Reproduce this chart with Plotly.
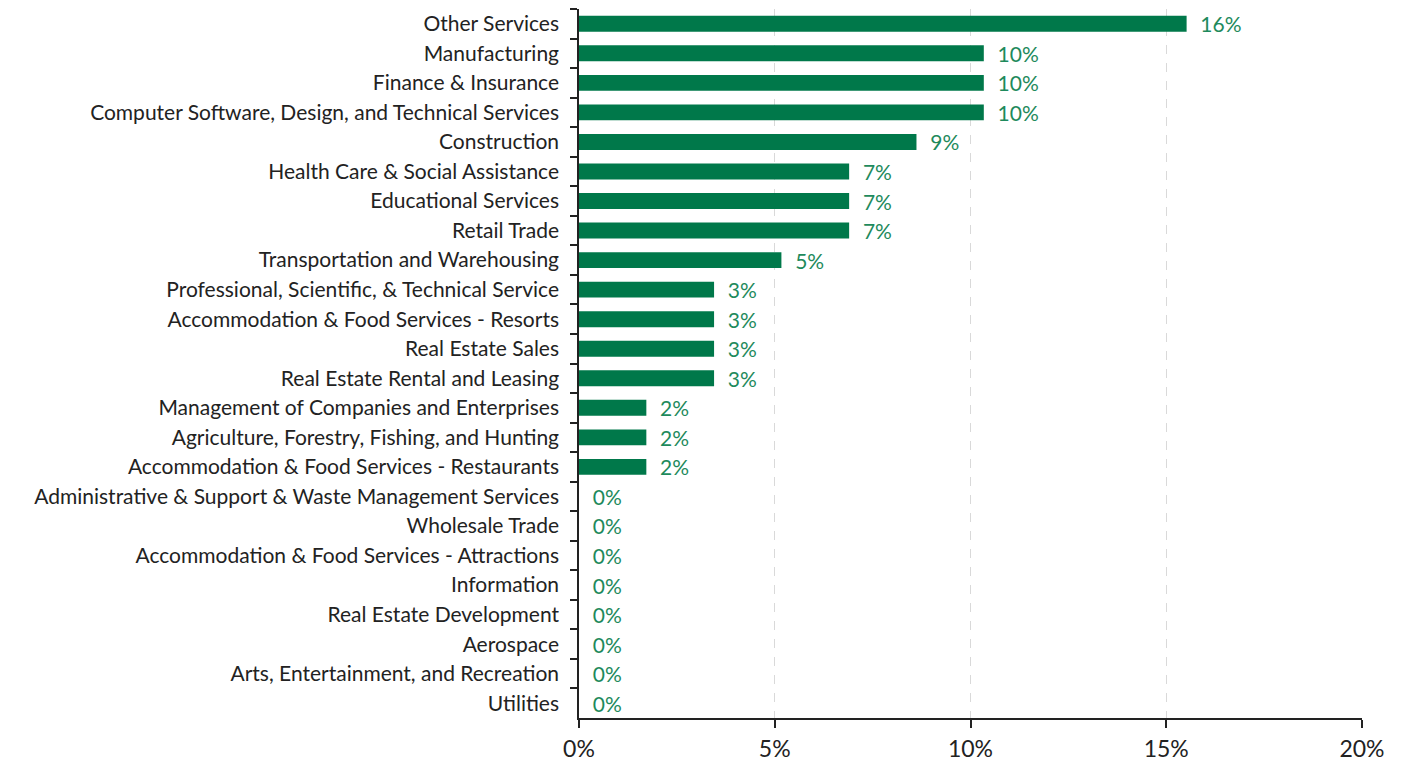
import plotly.graph_objects as go

categories = [
    "Other Services", "Manufacturing", "Finance & Insurance",
    "Computer Software, Design, and Technical Services", "Construction",
    "Health Care & Social Assistance", "Educational Services", "Retail Trade",
    "Transportation and Warehousing", "Professional, Scientific, & Technical Service",
    "Accommodation & Food Services - Resorts", "Real Estate Sales",
    "Real Estate Rental and Leasing", "Management of Companies and Enterprises",
    "Agriculture, Forestry, Fishing, and Hunting",
    "Accommodation & Food Services - Restaurants",
    "Administrative & Support & Waste Management Services", "Wholesale Trade",
    "Accommodation & Food Services - Attractions", "Information",
    "Real Estate Development", "Aerospace", "Arts, Entertainment, and Recreation",
    "Utilities",
]
shares = [0.1552, 0.1034, 0.1034, 0.1034, 0.0862, 0.0690, 0.0690, 0.0690,
          0.0517, 0.0345, 0.0345, 0.0345, 0.0345, 0.0172, 0.0172, 0.0172,
          0, 0, 0, 0, 0, 0, 0, 0]
x_ticks = [0, 0.05, 0.10, 0.15, 0.20]
x_tick_labels = ["0%", "5%", "10%", "15%", "20%"]

FONT = "Lato, 'Noto Sans', sans-serif"

fig = go.Figure(go.Bar(
    x=shares, y=categories, orientation="h",
    marker=dict(color="#00784A", line=dict(width=0)),
    width=0.54,
    text=shares, texttemplate="  %{x:.0%}", textposition="outside",
    constraintext="none",
    textfont=dict(color="#1E8A5C", size=21, family=FONT),
    cliponaxis=False,
))

# The page body has an 8px default margin, so offsets compensate for it.
fig.update_layout(
    width=1403, height=761,
    margin=dict(l=571, r=49, t=1, b=51),
    plot_bgcolor="white", paper_bgcolor="white",
    showlegend=False,
    font=dict(family=FONT, color="#222222"),
    xaxis=dict(
        range=[0, 0.20], tickvals=x_ticks, ticktext=x_tick_labels,
        showgrid=True, gridcolor="#d9d9d9", griddash="dash", gridwidth=1,
        showline=True, linecolor="#222222", linewidth=1.5,
        ticks="outside", ticklen=8, tickcolor="#222222", tickwidth=1.5,
        tickfont=dict(size=23, color="#222222"),
        zeroline=False, automargin=False, ticklabelstandoff=2,
    ),
    yaxis=dict(
        autorange="reversed", type="category",
        showline=True, linecolor="#222222", linewidth=1.5,
        ticks="outside", tickson="boundaries", ticklen=7, tickcolor="#222222",
        tickwidth=1.5,
        tickfont=dict(size=21, color="#222222"),
        showgrid=False, zeroline=False, automargin=False,
        ticklabelstandoff=14,
    ),
)

fig.write_html("out.html")
